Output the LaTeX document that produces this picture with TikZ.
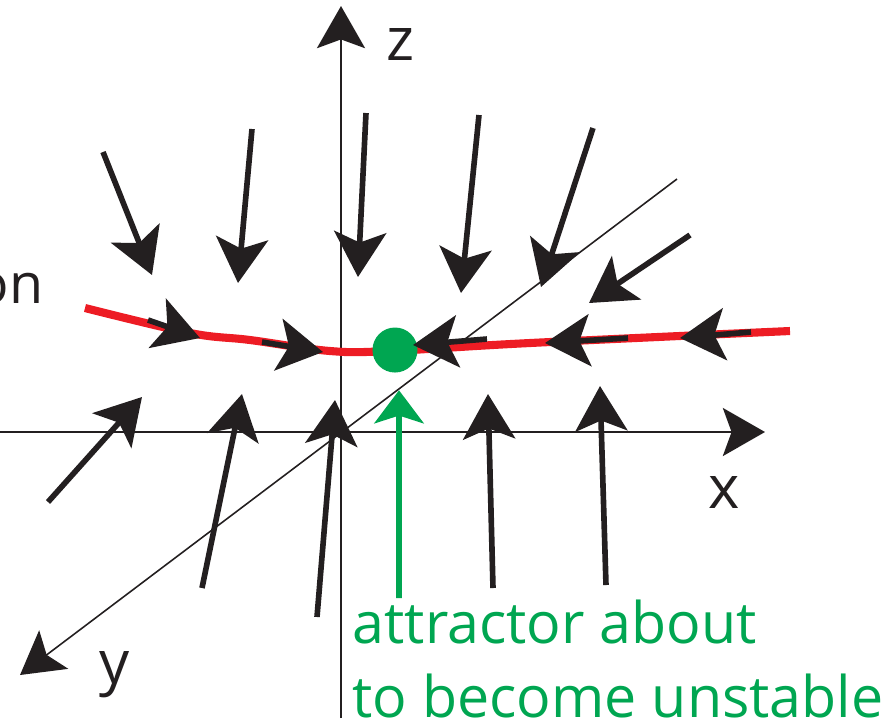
\documentclass[tikz,border=0pt]{standalone}
\usepackage{fontspec}
\setmainfont{Open Sans}
\usetikzlibrary{arrows.meta}
\definecolor{flowred}{HTML}{ED1C24}
\definecolor{attgreen}{HTML}{00A651}
\definecolor{ink}{HTML}{231F20}
\tikzset{
  axis/.style    ={draw=ink, line width=0.45pt,
                   -{Stealth[length=12pt, width=13.7pt, inset=2.5pt]}},
  flow/.style    ={draw=ink, line width=1.6pt,
                   -{Stealth[length=12.8pt, width=14.8pt, inset=3pt]}},
  pointer/.style ={draw=attgreen, line width=1.7pt,
                   -{Stealth[length=9.4pt, width=14pt, inset=2.2pt]}},
  manifold/.style={draw=flowred, line width=2.3pt},
  axlabel/.style ={font=\fontsize{17}{20}\selectfont, text=ink, inner sep=0pt},
  note/.style    ={font=\fontsize{16.3}{21}\selectfont, text=attgreen,
                   align=left, inner sep=0pt}
}

\begin{document}
\begin{tikzpicture}[x=0.01cm, y=-0.01cm]
\useasboundingbox (0,0) rectangle (890,726);

\coordinate (O) at (341,432);
\draw[axis] (341,718) -- (341,6);
\draw[axis] (0,432) -- (765,432);
\draw[axis] (677,179) -- (20,675);
\node[axlabel, anchor=base] (zlab) at (400,60) {z};
\node[axlabel, anchor=base] (xlab) at (724,508) {x};
\node[axlabel, anchor=base] (ylab) at (115,683) {y};
\node[axlabel, font=\fontsize{15.8}{21}\selectfont, anchor=base east]
  (onlab) at (44,303) {on};

\draw[manifold] plot[smooth, tension=0.6] coordinates
  {(85,308) (190,333) (250,340) (330,351) (390,351) (530,343) (790,331)};

\node[circle, fill=attgreen, minimum size=0.45cm, inner sep=0pt]
  (dot) at (395,350) {};

\foreach \a/\b/\c/\d in {103/152/152/275, 252/129/238/283, 366/113/358/277,
    479/115/461/293, 593/128/541/287, 690/235/589/303,
    148/320/200/338, 262/342/323/352, 487/339/413/345,
    628/338/545/343, 751/332/680/338,
    48/502/142/397, 202/588/242/394, 317/617/335/400,
    493/588/488/394, 606/585/600/386}
  \draw[flow] (\a,\b) -- (\c,\d);

\node[note, anchor=base west] (att) at (352,717)
  {attractor about\\to become unstable};
\coordinate (gtail) at (399,598);
\draw[pointer] (gtail) -- ([xshift=0.04cm, yshift=-0.17cm]dot.south);
\end{tikzpicture}
\end{document}
